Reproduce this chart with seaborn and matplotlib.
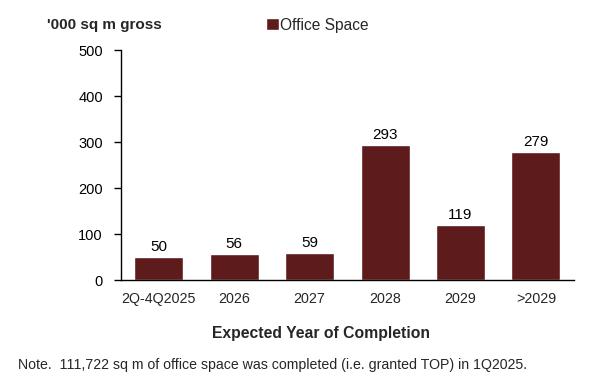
import matplotlib
matplotlib.use('Agg')
import pandas as pd
import matplotlib.pyplot as plt
import seaborn as sns
from matplotlib.patches import Patch

# office space pipeline, '000 sq m gross
periods = ['2Q-4Q2025', '2026', '2027', '2028', '2029', '>2029']
office_space = [50, 56, 59, 293, 119, 279]
yticks = [0, 100, 200, 300, 400, 500]

bar_color = '#5e1b1b'

sns.set_style('white')
plt.rcParams['font.family'] = ['Liberation Sans', 'DejaVu Sans']

df = pd.DataFrame({'period': periods, 'value': office_space})

fig = plt.figure(figsize=(6, 3.92), dpi=100)
ax = fig.add_axes([0.2017, 0.2857, 0.7543, 0.5867])

sns.barplot(data=df, x='period', y='value', color=bar_color, width=0.65,
            saturation=1, ax=ax)

for p, v in zip(ax.patches, office_space):
    ax.annotate(str(v), (p.get_x() + p.get_width() / 2, p.get_height()),
                xytext=(0, 2), textcoords='offset points',
                ha='center', va='bottom', fontsize=11, color='black')

ax.set_xlim(-0.5, 5.5)
ax.set_ylim(0, 500)
ax.set_yticks(yticks)
ax.tick_params(axis='y', left=True, length=5, width=1, direction='out',
               labelsize=10.5, colors='black', pad=8)
ax.tick_params(axis='x', bottom=False, labelsize=10.3, pad=5)
for s in ['top', 'right']:
    ax.spines[s].set_visible(False)
for s in ['left', 'bottom']:
    ax.spines[s].set_color('black')
    ax.spines[s].set_linewidth(1)

ax.set_ylabel('')
ax.set_xlabel('')

fig.text(0.535, 0.150, 'Expected Year of Completion', fontsize=11.3,
         fontweight='bold', ha='center', va='center')
fig.text(0.078, 0.936, "'000 sq m gross", fontsize=11, fontweight='bold',
         ha='left', va='center')
fig.legend(handles=[Patch(facecolor=bar_color, label='Office Space')],
           loc='center left', bbox_to_anchor=(0.431, 0.936), frameon=False,
           fontsize=11.2, handlelength=0.8, handleheight=0.8, handletextpad=0.1,
           borderpad=0)

fig.text(0.03, 0.068,
         'Note.  111,722 sq m of office space was completed (i.e. granted TOP) in 1Q2025.',
         fontsize=10.2, ha='left', va='center')

fig.savefig('out.png', dpi=100)
